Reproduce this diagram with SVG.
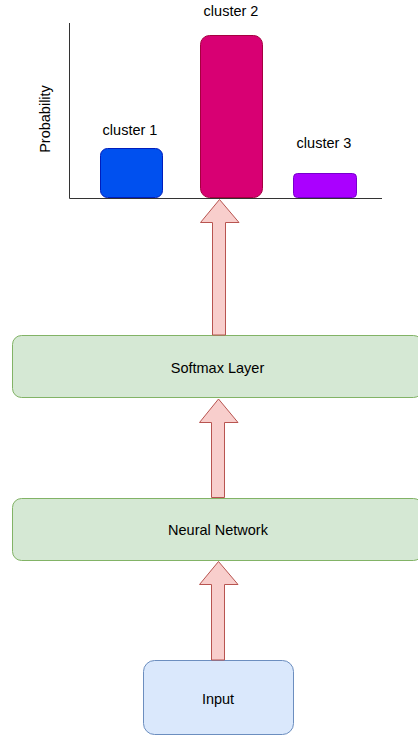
<svg xmlns="http://www.w3.org/2000/svg" width="418" height="736" viewBox="0 0 418 736">
<style>
text{font-family:"Liberation Sans",Arial,sans-serif;font-size:14.5px;fill:#000;text-anchor:middle}
.green{fill:#d5e8d4;stroke:#82b366;stroke-width:1}
.blue{fill:#dae8fc;stroke:#6c8ebf;stroke-width:1}
.arrow{fill:#f8cecc;stroke:#b85450;stroke-width:1}
.axis{fill:none;stroke:#333333;stroke-width:1}
</style>
<rect width="418" height="736" fill="#ffffff"/>
<g id="chart">
<path class="axis" d="M69.5 23 V198.5 H382"/>
<text transform="translate(49.5 119) rotate(-90)">Probability</text>
</g>
<g id="cluster1">
<rect x="100.5" y="148.5" width="62" height="49" rx="7" fill="#0050ef" stroke="#001dbc"/>
<text x="130" y="135">cluster 1</text>
</g>
<g id="cluster2">
<rect x="200.5" y="35.5" width="62" height="162" rx="9" fill="#d80073" stroke="#a50040"/>
<text x="231" y="16">cluster 2</text>
</g>
<g id="cluster3">
<rect x="293.5" y="173.5" width="63" height="24" rx="4" fill="#aa00ff" stroke="#7700cc"/>
<text x="324" y="148">cluster 3</text>
</g>
<g id="softmax">
<rect class="green" x="12.5" y="335.5" width="410" height="62" rx="9"/>
<text x="217.5" y="373">Softmax Layer</text>
</g>
<g id="neural">
<rect class="green" x="12.5" y="498.5" width="410" height="62" rx="9"/>
<text x="218" y="535">Neural Network</text>
</g>
<g id="input">
<rect class="blue" x="143.5" y="660.5" width="150" height="74" rx="11"/>
<text x="218" y="704">Input</text>
</g>
<g id="connectors">
<path class="arrow" d="M212.5 335 V222.5 H200.5 L219.5 199.5 L239 222.5 H225.5 V335 Z"/>
<path class="arrow" d="M211.5 497.5 V422.5 H199.5 L218.5 399 L238 422.5 H224.5 V497.5 Z"/>
<path class="arrow" d="M211.5 660 V584.5 H199.5 L218.5 561.5 L238 584.5 H224.5 V660 Z"/>
</g>
</svg>
